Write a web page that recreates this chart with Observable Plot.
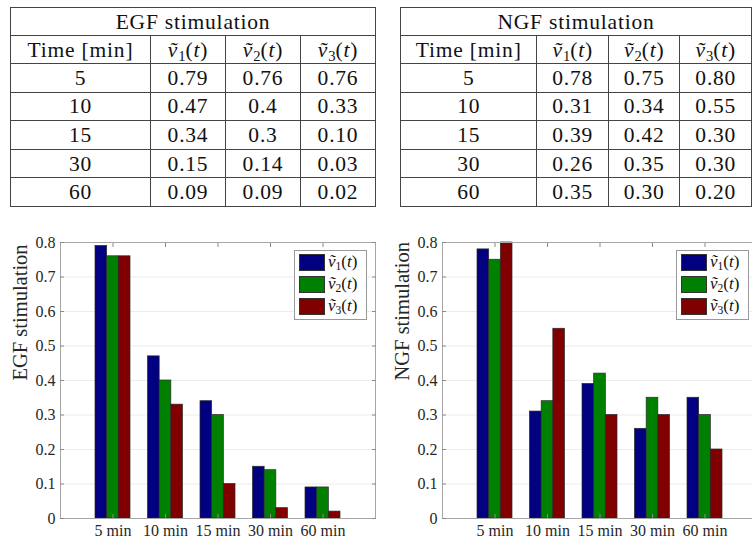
<!DOCTYPE html>
<html>
<head>
<meta charset="utf-8">
<script src="https://cdn.jsdelivr.net/npm/d3@7"></script>
<script src="https://cdn.jsdelivr.net/npm/@observablehq/plot@0.6"></script>
<style>
  html, body { margin: 0; padding: 0; background: #fff; overflow: hidden; width: 752px; height: 541px; }
  .tbl { position: absolute; top: 7px; border-collapse: collapse; font-family: "Liberation Serif", serif; font-size: 21.5px; letter-spacing: 0.8px; color: #111; table-layout: fixed; background: #fff; }
  .tbl td { border: 1px solid #444; text-align: center; padding: 0; height: 27px; line-height: 26px; white-space: nowrap; overflow: hidden; }
  .tbl tr.hd td { height: 27px; }
  .tbl tr.rw td { height: 27.6px; }
  .tbl sub, .lg sub { font-size: 0.68em; vertical-align: -0.25em; line-height: 0; letter-spacing: 0; }
  .chart { position: absolute; top: 225px; width: 380px; height: 316px; }
  .chart svg { max-width: none !important; width: 380px; height: 316px; }
  .lg { position: absolute; left: 294px; top: 25px; width: 73px; height: 70px; box-sizing: border-box; border: 1px solid #999; background: #fff; font-family: "Liberation Serif", serif; font-size: 17px; color: #111; }
  .lg .row { position: absolute; left: 4px; height: 17px; }
  .lg .sw { position: absolute; left: 0; top: 0; width: 26px; height: 17px; box-sizing: border-box; border: 1px solid #333; }
  .lg .tx { position: absolute; left: 29px; top: -3px; white-space: nowrap; line-height: 22px; }
</style>
</head>
<body>
<div id="root"></div>
<script>
// ---- data ----
const times = [5, 10, 15, 30, 60];
const seriesNames = ["1", "2", "3"];
const egfV1 = ["0.79", "0.47", "0.34", "0.15", "0.09"];
const egfV2 = ["0.76", "0.4", "0.3", "0.14", "0.09"];
const egfV3 = ["0.76", "0.33", "0.10", "0.03", "0.02"];
const ngfV1 = ["0.78", "0.31", "0.39", "0.26", "0.35"];
const ngfV2 = ["0.75", "0.34", "0.42", "0.35", "0.30"];
const ngfV3 = ["0.80", "0.55", "0.30", "0.30", "0.20"];
const yTicks = [0, 0.1, 0.2, 0.3, 0.4, 0.5, 0.6, 0.7, 0.8];
const colors = ["#000080", "#008000", "#800000"];

const root = document.getElementById("root");
const vt = (n) => `<i>v\u0303</i><sub>${n}</sub>(<i>t</i>)`;

function makeTable(title, cols, left) {
  const t = document.createElement("table");
  t.className = "tbl";
  t.style.left = left + "px";
  let html = `<colgroup><col style="width:140px"><col style="width:75px"><col style="width:75px"><col style="width:75px"></colgroup>`;
  html += `<tr class="hd"><td colspan="4">${title}</td></tr>`;
  html += `<tr class="hd"><td>Time [min]</td>${seriesNames.map(n => `<td>${vt(n)}</td>`).join("")}</tr>`;
  times.forEach((tm, i) => {
    html += `<tr class="rw"><td>${tm}</td>${cols.map(c => `<td>${c[i]}</td>`).join("")}</tr>`;
  });
  t.innerHTML = html;
  root.appendChild(t);
}
makeTable("EGF stimulation", [egfV1, egfV2, egfV3], 10);
makeTable("NGF stimulation", [ngfV1, ngfV2, ngfV3], 400);

const bw = 2 / 9;
function makeChart(cols, label, left) {
  const data = cols.flatMap((vals, s) => vals.map((v, g) => ({g: g + 1, s, v: +v})));
  const fmt = d => String(+d.toFixed(1));
  const svg = Plot.plot({
    width: 380, height: 316,
    marginLeft: 60, marginRight: 5, marginTop: 17, marginBottom: 23,
    style: {fontFamily: "Liberation Serif", fontSize: "16px", color: "#262626", background: "white", maxWidth: "none"},
    x: {domain: [0, 6]},
    y: {domain: [0, 0.8]},
    color: {type: "ordinal", domain: [0, 1, 2], range: colors},
    marks: [
      Plot.ruleY(yTicks, {stroke: "#ececec", strokeWidth: 1}),
      Plot.rectY(data, {x1: d => d.g - 1/3 + d.s * bw, x2: d => d.g - 1/3 + (d.s + 1) * bw, y1: 0, y2: "v", fill: "s", stroke: "#2a2a2a", strokeWidth: 0.7}),
      Plot.frame({stroke: "#a6a6a6"}),
      Plot.axisY({anchor: "left", ticks: yTicks, tickSize: 0, tickPadding: 5, tickFormat: fmt, label: null}),
      Plot.axisY({anchor: "left", ticks: yTicks, tickSize: -4, tickFormat: () => "", label: null, stroke: "#8a8a8a"}),
      Plot.axisY({anchor: "right", ticks: yTicks, tickSize: -4, tickFormat: () => "", label: null, stroke: "#8a8a8a"}),
      Plot.axisX({anchor: "bottom", ticks: [1, 2, 3, 4, 5], tickSize: 0, tickPadding: 6, tickFormat: i => times[i - 1] + " min", label: null}),
      Plot.axisX({anchor: "bottom", ticks: [1, 2, 3, 4, 5], tickSize: -4, tickFormat: () => "", label: null, stroke: "#8a8a8a"}),
      Plot.axisX({anchor: "top", ticks: [1, 2, 3, 4, 5], tickSize: -4, tickFormat: () => "", label: null, stroke: "#8a8a8a"}),
      Plot.text([label], {text: d => d, frameAnchor: "left", rotate: -90, dx: -40, fontSize: 20.5, fill: "#262626"})
    ]
  });
  const wrap = document.createElement("div");
  wrap.className = "chart";
  wrap.style.left = left + "px";
  wrap.appendChild(svg);
  const lg = document.createElement("div");
  lg.className = "lg";
  lg.innerHTML = seriesNames.map((n, i) =>
    `<div class="row" style="top:${3 + i * 22}px"><div class="sw" style="background:${colors[i]}"></div><div class="tx">${vt(n)}</div></div>`
  ).join("");
  wrap.appendChild(lg);
  root.appendChild(wrap);
}
makeChart([egfV1, egfV2, egfV3], "EGF stimulation", 0);
makeChart([ngfV1, ngfV2, ngfV3], "NGF stimulation", 382);
</script>
</body>
</html>
